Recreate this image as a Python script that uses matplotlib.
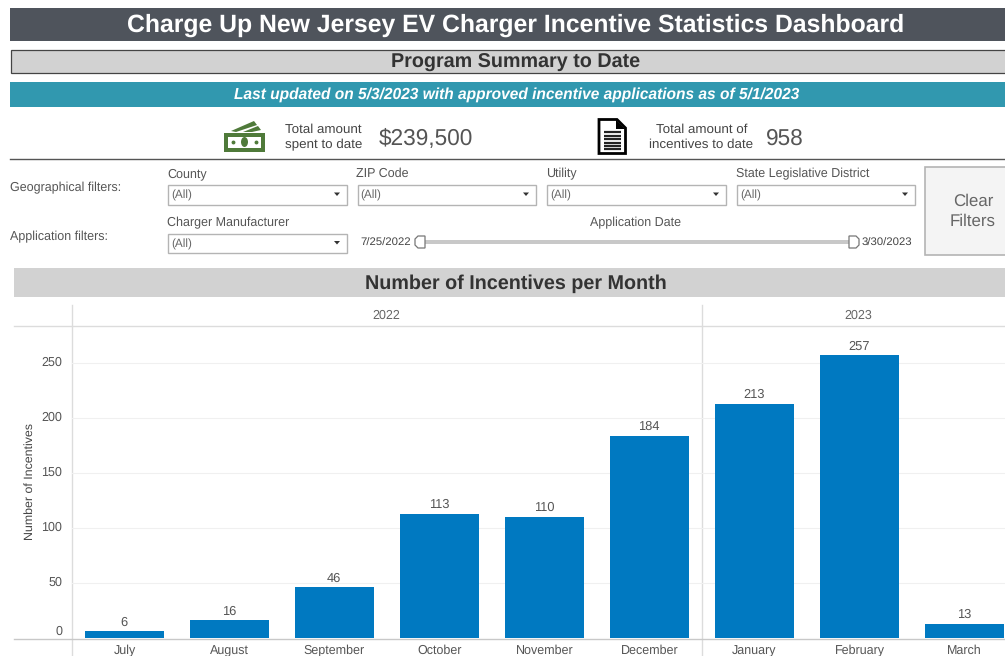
import matplotlib
matplotlib.use('Agg')
import matplotlib.pyplot as plt
from matplotlib.patches import Rectangle, Polygon, Ellipse
from matplotlib.transforms import ScaledTranslation

plt.rcParams['font.family'] = ['Liberation Sans', 'DejaVu Sans']
plt.rcParams['text.hinting'] = 'none'
plt.rcParams['text.hinting_factor'] = 8

months = ['July', 'August', 'September', 'October', 'November', 'December', 'January', 'February', 'March']
incentives = [6, 16, 46, 113, 110, 184, 213, 257, 13]
y_ticks = [0, 50, 100, 150, 200, 250]
years = ['2022', '2023']
geo_filters = ['County', 'ZIP Code', 'Utility', 'State Legislative District']

W, H = 1005, 656
fig = plt.figure(figsize=(W / 100, H / 100), dpi=100, facecolor='white')

# page layer, in pixels from the top left
bg = fig.add_axes([0, 0, 1, 1])
bg.set_xlim(0, W)
bg.set_ylim(H, 0)
bg.axis('off')


def box(x0, y0, x1, y1, fc='none', ec='none', lw=1.0, z=1):
    bg.add_patch(Rectangle((x0, y0), x1 - x0, y1 - y0, facecolor=fc, edgecolor=ec, linewidth=lw, zorder=z))


def dropdown(x0, y0, x1, y1):
    box(x0, y0, x1, y1, fc='white', ec='#b4b4b4', lw=1.0)
    bg.text(x0 + 3, (y0 + y1) / 2 + 1, '(All)', fontsize=8.5, color='#666666', va='center')
    xm = x1 - 10
    ym = (y0 + y1) / 2 - 0.5
    bg.add_patch(Polygon([(xm - 3, ym - 1.5), (xm + 3, ym - 1.5), (xm, ym + 2)], facecolor='#333333', edgecolor='none'))


def slider_handle(xs, y0, y1):
    # xs runs from the flat side to the round side
    pts = [(xs[0], y0), (xs[1], y0), (xs[2], y0 + 3), (xs[2], y1 - 3), (xs[1], y1), (xs[0], y1)]
    bg.add_patch(Polygon(pts, facecolor='white', edgecolor='#777777', linewidth=0.9, zorder=3))


# title bars
box(10, 8, W, 40.5, fc='#4f545c')
bg.text(516, 25.5, 'Charge Up New Jersey EV Charger Incentive Statistics Dashboard', fontsize=17.87, fontweight='bold',
        color='white', ha='center', va='center')
box(10.5, 49.5, W + 2, 73, fc='#d2d2d2', ec='#444444', lw=0.9)
bg.text(516, 62.5, 'Program Summary to Date', fontsize=14.2, fontweight='bold', color='#333333', ha='center', va='center')
box(10, 82, W, 106.5, fc='#3198af')
bg.text(516.5, 95, 'Last updated on 5/3/2023 with approved incentive applications as of 5/1/2023', fontsize=11.2,
        fontweight='bold', fontstyle='italic', color='white', ha='center', va='center')

# money icon
green = '#4f7a3a'
bg.add_patch(Polygon([(231, 131), (254, 121), (257, 125), (236, 132)], facecolor=green, edgecolor='none'))
bg.add_patch(Polygon([(243, 132), (258, 126), (261, 130), (252, 132)], facecolor=green, edgecolor='none'))
box(224, 133, 265, 151.5, fc=green)
box(228, 137, 261, 148, fc='white')
bg.add_patch(Ellipse((244.5, 142), 7, 10, facecolor=green, edgecolor='none', zorder=2))
bg.plot([233, 255.5], [142, 142], ls='none', marker='o', ms=1.8, color=green, zorder=2)

# document icon
bg.add_patch(Polygon([(599, 119.5), (617, 119.5), (625.5, 128), (625.5, 153.5), (599, 153.5)], facecolor='white',
                     edgecolor='black', linewidth=2))
bg.add_patch(Polygon([(616, 120), (616, 128.5), (625, 128.5)], facecolor='black', edgecolor='none', zorder=3))
for y, x0 in [(132, 604), (135.5, 604), (139, 604), (142.5, 604), (146, 604), (149, 604)]:
    bg.plot([x0, 621], [y, y], color='#222222', lw=1.6, solid_capstyle='butt', zorder=3)

# summary numbers
bg.text(323.5, 137, 'Total amount\nspent to date', fontsize=9.6, color='#444444', ha='center', va='center', linespacing=1.35)
bg.text(426, 138.5, '$239,500', fontsize=16.3, color='#555555', ha='center', va='center')
bg.text(701.5, 137, 'Total amount of\nincentives to date', fontsize=9.6, color='#444444', ha='center', va='center', linespacing=1.35)
bg.text(785, 138.5, '958', fontsize=16.3, color='#555555', ha='center', va='center')
bg.plot([10, W], [158.5, 158.5], color='#555555', lw=1.0)

# filters
bg.text(10.5, 188, 'Geographical filters:', fontsize=9, color='#555555', va='center')
bg.text(10.5, 236.5, 'Application filters:', fontsize=9, color='#555555', va='center')
filter_x = [(168, 347), (357.5, 536), (547, 726), (737, 915)]
for name, (x0, x1) in zip(geo_filters, filter_x):
    bg.text(x0 - 1, 174, name, fontsize=9, color='#555555', va='center')
    dropdown(x0, 184.5, x1, 204.5)
bg.text(167, 222.5, 'Charger Manufacturer', fontsize=9, color='#555555', va='center')
dropdown(168, 233.5, 347, 252.5)
bg.text(636, 223, 'Application Date', fontsize=9, color='#555555', ha='center', va='center')
bg.text(386, 243, '7/25/2022', fontsize=8.2, color='#444444', ha='center', va='center')
bg.text(887, 243, '3/30/2023', fontsize=8.2, color='#444444', ha='center', va='center')
box(420, 240, 854, 244, fc='#c8c8c8')
slider_handle([425, 418, 415], 236, 248)
slider_handle([849, 856, 859], 236, 248)
box(924.5, 167, W + 2, 255, fc='#f4f4f4', ec='#b4b4b4', lw=1.2)
bg.text(973, 211.5, 'Clear\nFilters', fontsize=12.2, color='#666666', ha='center', va='center', linespacing=1.3)

# chart header
box(14, 268, W, 297, fc='#d2d2d2')
bg.text(516, 283.5, 'Number of Incentives per Month', fontsize=14.2, fontweight='bold', color='#333333', ha='center', va='center')

# chart frame lines
bg.plot([14, W], [326, 326], color='#dcdcdc', lw=1, zorder=1)
bg.plot([71.5, 71.5], [305, H], color='#dcdcdc', lw=1, zorder=1)
bg.plot([701.5, 701.5], [305, H], color='#dcdcdc', lw=1, zorder=1)
bg.text(386.5, 316, years[0], fontsize=9, color='#666666', ha='center', va='center')
bg.text(858.5, 316, years[1], fontsize=9, color='#666666', ha='center', va='center')
bg.text(29.5, 482, 'Number of Incentives', fontsize=8.9, color='#444444', rotation=90, ha='center', va='center')
bg.plot([14, W], [638.5, 638.5], color='#c8c8c8', lw=1, zorder=1)

# bar chart
left, right, top, bottom = 72, W, 326, 638
ax = fig.add_axes([left / W, 1 - bottom / H, (right - left) / W, (bottom - top) / H])
ax.patch.set_alpha(0)
ax.bar(range(len(months)), incentives, width=0.755, color='#0079c1', zorder=3)
for i, v in enumerate(incentives):
    ax.annotate(str(v), (i, v), xytext=(-0.4, 2.3), textcoords='offset points', fontsize=9.3, color='#555555', ha='center', va='bottom')
ax.set_xlim(-0.5, (right - left) / 105 - 0.5)
ax.set_ylim(0, (bottom - top) / 1.1)
ax.set_yticks(y_ticks)
ax.set_xticks(range(len(months)))
ax.set_xticklabels(months)
ax.tick_params(axis='x', length=0, labelsize=9, labelcolor='#555555', pad=5)
ax.tick_params(axis='y', length=0, labelsize=9, labelcolor='#555555', pad=7)
ylabels = ax.yaxis.get_ticklabels()
ylabels[0].set_va('bottom')
for label in ylabels[1:]:
    label.set_transform(label.get_transform() + ScaledTranslation(0, 1.5 / 100, fig.dpi_scale_trans))
ax.grid(axis='y', color='#f0f0f0', lw=0.8, zorder=0)
ax.set_axisbelow(True)
for s in ax.spines.values():
    s.set_visible(False)

fig.savefig('out.png', dpi=100)
